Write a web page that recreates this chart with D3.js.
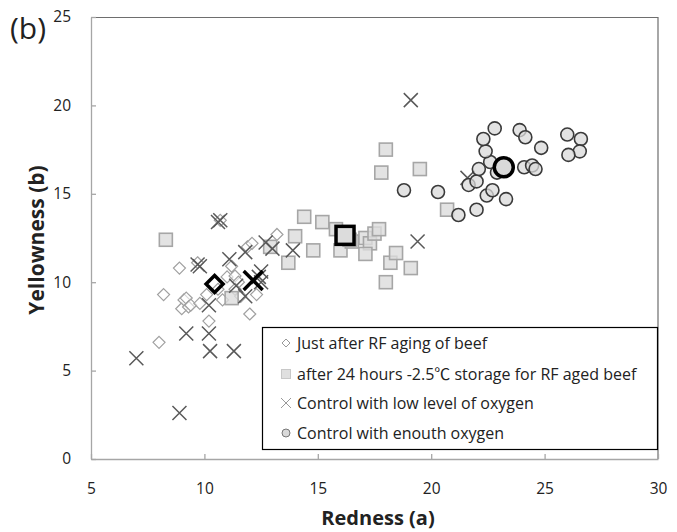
<!DOCTYPE html>
<html>
<head>
<meta charset="utf-8">
<script src="https://d3js.org/d3.v7.min.js"></script>
<style>
  body { margin: 0; background: #fff; }
  text { font-family: "Open Sans", "Noto Sans CJK KR", sans-serif; fill: #222; }
  .axis path, .axis line { stroke: #a6a6a6; }
  .axis text { font-size: 15.5px; fill: #222; }
</style>
</head>
<body>
<div id="chart"></div>
<script>

// Redness (a), Yellowness (b) pairs
var justAfter = [
  [8.0, 6.6], [8.2, 9.3], [8.9, 10.8], [9.0, 8.5], [9.1, 9.0], [9.2, 9.1],
  [9.3, 8.6], [9.4, 8.7], [9.8, 8.8], [10.1, 9.3], [10.2, 7.8], [9.7, 11.1],
  [10.7, 13.5], [10.6, 9.6], [10.8, 9.0], [11.0, 10.3], [11.2, 10.9],
  [11.35, 10.35], [11.5, 10.0], [11.35, 9.6], [11.6, 9.2], [11.9, 12.0],
  [12.1, 12.2], [12.3, 9.3], [12.0, 8.2], [13.2, 12.7]
];
var after24h = [
  [8.3, 12.4], [11.2, 9.1], [12.9, 12.0], [13.7, 11.1], [14.0, 12.6], [14.4, 13.7],
  [14.8, 11.8], [15.2, 13.4], [15.8, 13.0], [16.0, 11.8], [16.5, 12.3], [16.4, 12.4],
  [17.1, 12.5], [17.3, 12.2], [17.5, 12.75], [17.7, 13.0], [17.1, 11.6], [18.2, 11.1],
  [18.45, 11.65], [19.1, 10.8], [18.0, 10.0], [17.8, 16.2], [18.0, 17.5], [19.5, 16.4],
  [20.7, 14.1]
];
var lowOxygen = [
  [7.0, 5.7], [8.9, 2.6], [9.2, 7.1], [10.2, 7.1], [10.25, 6.1], [11.3, 6.1],
  [10.6, 13.4], [10.7, 13.5], [9.7, 11.0], [9.8, 10.9], [11.1, 11.3], [11.8, 11.7],
  [12.7, 12.25], [13.0, 11.9], [13.9, 11.8], [10.2, 8.7], [11.8, 9.2], [12.5, 10.6],
  [12.5, 10.0], [11.4, 9.8], [12.4, 10.3], [19.1, 20.3], [19.4, 12.3], [21.6, 15.9]
];
var enoughOxygen = [
  [18.8, 15.2], [20.3, 15.1], [21.2, 13.8], [22.0, 14.1], [21.65, 15.5], [22.0, 15.7],
  [22.1, 16.4], [22.45, 14.9], [22.7, 15.2], [23.3, 14.7], [22.6, 16.8], [22.9, 16.2],
  [22.4, 17.4], [22.3, 18.1], [22.8, 18.7], [23.9, 18.6], [24.15, 18.2], [24.85, 17.6],
  [24.1, 16.5], [24.45, 16.6], [24.6, 16.4], [26.0, 18.35], [26.6, 18.1], [26.55, 17.4],
  [26.05, 17.2]
];
// group means (bold markers)
var means = [[10.45, 9.9], [16.2, 12.65], [12.15, 10.1], [23.2, 16.5]];

var xTicks = [5, 10, 15, 20, 25, 30];
var yTicks = [0, 5, 10, 15, 20, 25];
var legendLabels = [
  "Just after RF aging of beef",
  "after 24 hours -2.5\u2103 storage for RF aged beef",
  "Control with low level of oxygen",
  "Control with enouth oxygen"
];

/*
 * ScatterVis - draws the colour scatter
 */
ScatterVis = function(_parentElement){
  this.parentElement = _parentElement;
  this.initVis();
}

ScatterVis.prototype.initVis = function(){
  var vis = this;

  vis.margin = {top: 17, right: 19, bottom: 73, left: 91};
  vis.width = 677 - vis.margin.left - vis.margin.right;
  vis.height = 532 - vis.margin.top - vis.margin.bottom;

  vis.root = d3.select("#" + vis.parentElement).append("svg")
    .attr("width", 677)
    .attr("height", 532);

  vis.svg = vis.root.append("g")
    .attr("transform", "translate(" + vis.margin.left + "," + vis.margin.top + ")");

  vis.x = d3.scaleLinear().domain([5, 30]).range([0, vis.width]);
  vis.y = d3.scaleLinear().domain([0, 25]).range([vis.height, 0]);

  // frame (top + right)
  vis.svg.append("path")
    .attr("d", "M0,0.5H" + vis.width + "V" + vis.height)
    .attr("fill", "none")
    .attr("stroke", "#6e6e6e")
    .attr("stroke-width", 1.2);

  vis.xAxis = d3.axisBottom(vis.x).tickValues(xTicks).tickSizeInner(-5).tickSizeOuter(0).tickPadding(24);
  vis.yAxis = d3.axisLeft(vis.y).tickValues(yTicks).tickSizeInner(-5).tickSizeOuter(0).tickPadding(20);

  vis.svg.append("g")
    .attr("class", "axis x-axis")
    .attr("transform", "translate(0," + vis.height + ")")
    .call(vis.xAxis);

  vis.svg.append("g")
    .attr("class", "axis y-axis")
    .call(vis.yAxis);

  vis.svg.selectAll(".axis path, .axis line").attr("stroke-width", 1.3);

  // axis titles
  vis.root.append("text")
    .attr("text-anchor", "middle")
    .attr("x", 378)
    .attr("y", 525)
    .style("font-size", "20px")
    .style("font-weight", "bold")
    .text("Redness (a)");

  vis.root.append("text")
    .attr("text-anchor", "middle")
    .attr("transform", "translate(44,240)rotate(-90)")
    .style("font-size", "21px")
    .style("font-weight", "bold")
    .text("Yellowness (b)");

  vis.root.append("text")
    .attr("x", 10)
    .attr("y", 39)
    .style("font-size", "30px")
    .text("(b)");

  vis.updateVis();
}

ScatterVis.prototype.drawMarker = function(sel, type, size, stroke, sw, fill){
  if (type == "diamond") {
    sel.append("path")
      .attr("d", "M0," + (-size) + "L" + size + ",0L0," + size + "L" + (-size) + ",0Z")
      .attr("fill", fill).attr("stroke", stroke).attr("stroke-width", sw);
  } else if (type == "square") {
    sel.append("rect")
      .attr("x", -size).attr("y", -size)
      .attr("width", size * 2).attr("height", size * 2)
      .attr("fill", fill).attr("stroke", stroke).attr("stroke-width", sw);
  } else if (type == "cross") {
    sel.append("path")
      .attr("d", "M" + (-size) + "," + (-size) + "L" + size + "," + size + "M" + size + "," + (-size) + "L" + (-size) + "," + size)
      .attr("fill", "none").attr("stroke", stroke).attr("stroke-width", sw);
  } else {
    sel.append("circle")
      .attr("r", size)
      .attr("fill", fill).attr("stroke", stroke).attr("stroke-width", sw);
  }
}

ScatterVis.prototype.updateVis = function(){
  var vis = this;

  vis.series = [
    {data: justAfter, type: "diamond", size: 6, stroke: "#a0a0a0", sw: 1.2, fill: "#fff", op: 0.6},
    {data: after24h, type: "square", size: 6.5, stroke: "#a6a6a6", sw: 1.6, fill: "#dcdcdc", op: 0.8},
    {data: lowOxygen, type: "cross", size: 7, stroke: "#595959", sw: 1.5, fill: "none", op: 1},
    {data: enoughOxygen, type: "circle", size: 6.5, stroke: "#3a3a3a", sw: 1.6, fill: "#d9d9d9", op: 0.75}
  ];
  var meanSize = [8.5, 9, 9.5, 9.5];

  vis.series.forEach(function(s){
    var g = vis.svg.append("g");
    s.data.forEach(function(d){
      var m = g.append("g")
        .attr("transform", "translate(" + vis.x(d[0]) + "," + vis.y(d[1]) + ")")
        .style("fill-opacity", s.op);
      vis.drawMarker(m, s.type, s.size, s.stroke, s.sw, s.fill);
    });
  });

  // group means
  means.forEach(function(d, i){
    var s = vis.series[i];
    var m = vis.svg.append("g")
      .attr("transform", "translate(" + vis.x(d[0]) + "," + vis.y(d[1]) + ")");
    vis.drawMarker(m, s.type, meanSize[i], "#000", 3.5, s.fill == "#fff" ? "none" : s.fill);
  });

  // legend
  var lg = vis.root.append("g").attr("transform", "translate(262,327)");
  lg.append("rect")
    .attr("x", 0.5).attr("y", 0.5)
    .attr("width", 395).attr("height", 122)
    .attr("fill", "#fff")
    .attr("stroke", "#000")
    .attr("stroke-width", 1.2);

  var rowY = [16, 47, 76, 106];
  var legStyle = [
    {size: 4, stroke: "#999", sw: 1, fill: "#fff"},
    {size: 4.5, stroke: "#c8c8c8", sw: 1, fill: "#e0e0e0"},
    {size: 5, stroke: "#999", sw: 1, fill: "none"},
    {size: 4, stroke: "#777", sw: 1, fill: "#d9d9d9"}
  ];
  legendLabels.forEach(function(t, i){
    var m = lg.append("g").attr("transform", "translate(24," + rowY[i] + ")");
    vis.drawMarker(m, vis.series[i].type, legStyle[i].size, legStyle[i].stroke, legStyle[i].sw, legStyle[i].fill);
    lg.append("text")
      .attr("x", 35)
      .attr("y", rowY[i])
      .attr("dy", "0.35em")
      .style("font-size", "16px")
      .text(t);
  });
}

var scatterVis = new ScatterVis("chart");

</script>
</body>
</html>
